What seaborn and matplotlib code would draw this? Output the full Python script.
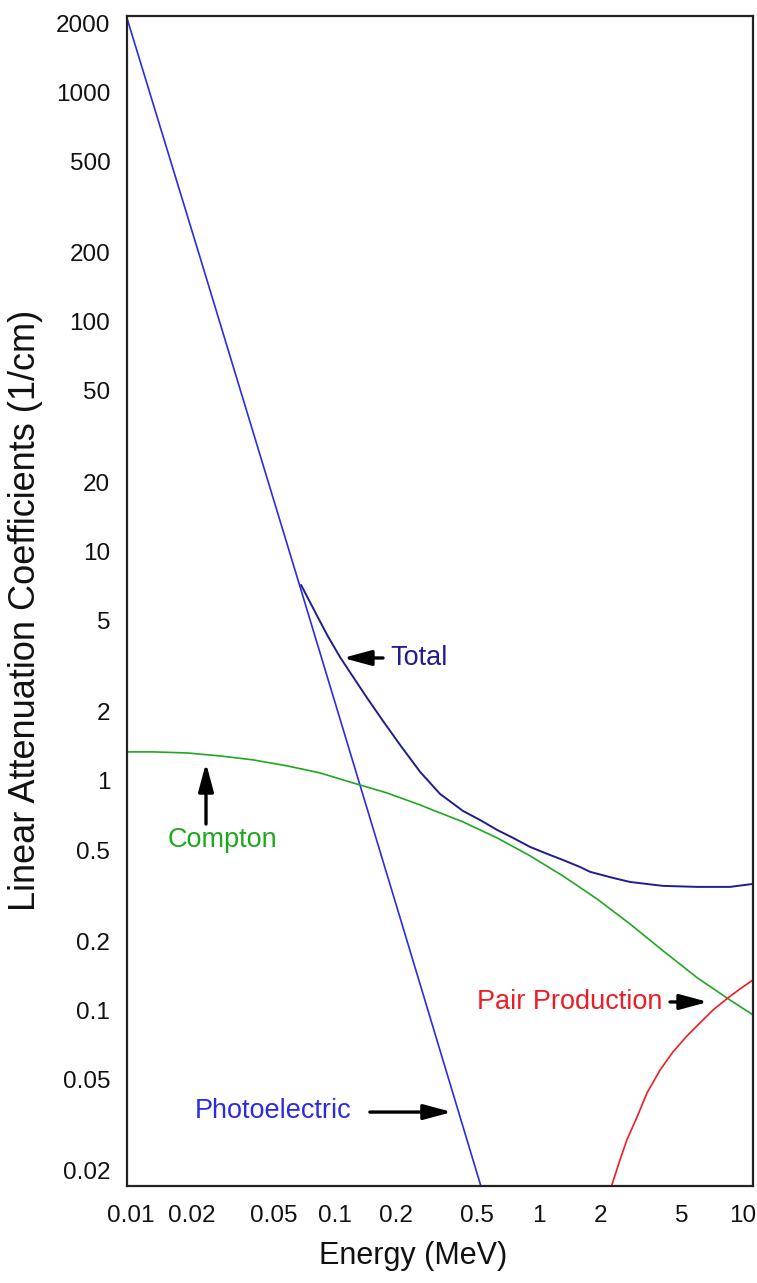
import matplotlib
matplotlib.use("Agg")
import matplotlib.pyplot as plt
from matplotlib.patches import ArrowStyle
import pandas as pd
import seaborn as sns

# Linear attenuation coefficients (1/cm) versus photon energy (MeV)
photo_energy = [0.0096, 0.022, 0.068, 0.21, 0.52]
photo_mu = [2100, 188, 6.9, 0.25, 0.0172]

compton_energy = [0.0096, 0.0129, 0.0189, 0.0274, 0.0398, 0.0584, 0.0847,
                  0.123, 0.180, 0.262, 0.293, 0.425, 0.624, 0.905, 1.31,
                  1.93, 2.80, 4.06, 5.96, 8.65, 11.2]
compton_mu = [1.338, 1.338, 1.324, 1.285, 1.235, 1.163, 1.084,
              0.980, 0.887, 0.786, 0.755, 0.663, 0.565, 0.472, 0.386,
              0.306, 0.238, 0.182, 0.139, 0.111, 0.0957]

pair_energy = [2.27, 2.50, 2.70, 3.03, 3.39, 3.93, 4.54, 5.32, 6.16,
               7.14, 8.45, 9.68, 11.2]
pair_mu = [0.0172, 0.0224, 0.0273, 0.0344, 0.0438, 0.0551, 0.0660, 0.0775,
           0.0883, 0.1006, 0.1135, 0.1242, 0.1359]

total_energy = [0.0684, 0.0801, 0.0917, 0.106, 0.123, 0.144, 0.172, 0.209,
                0.262, 0.328, 0.425, 0.515, 0.624, 0.747, 0.905,
                1.10, 1.31, 1.59, 1.78, 2.31, 2.80, 4.06, 5.96, 8.65, 11.2]
total_mu = [7.14, 5.45, 4.33, 3.47, 2.84, 2.30, 1.83, 1.435,
            1.095, 0.878, 0.740, 0.676, 0.612, 0.565, 0.516,
            0.481, 0.453, 0.422, 0.402, 0.378, 0.363, 0.349, 0.3455, 0.3455, 0.356]

y_ticks = [0.02, 0.05, 0.1, 0.2, 0.5, 1, 2, 5, 10, 20, 50, 100, 200, 500, 1000, 2000]
y_tick_labels = ["0.02", "0.05", "0.1", "0.2", "0.5", "1", "2", "5", "10",
                 "20", "50", "100", "200", "500", "1000", "2000"]
x_ticks = [0.01, 0.02, 0.05, 0.1, 0.2, 0.5, 1, 2, 5, 10]
x_tick_labels = ["0.01", "0.02", "0.05", "0.1", "0.2", "0.5", "1", "2", "5", "10"]

sns.set_theme(style="white")
plt.rcParams["font.family"] = ["Liberation Sans", "DejaVu Sans"]

C_PHOTO = "#2b2be6"
C_TOTAL = "#1e1e8c"
C_COMPTON = "#1fa81f"
C_PAIR = "#ee1c24"

fig = plt.figure(figsize=(7.57, 12.83), dpi=100)
ax = fig.add_axes([127 / 757, 1 - 1186 / 1283, 626 / 757, 1170 / 1283])

curves = [
    (photo_energy, photo_mu, C_PHOTO, 1.2),
    (compton_energy, compton_mu, C_COMPTON, 1.2),
    (pair_energy, pair_mu, C_PAIR, 1.2),
    (total_energy, total_mu, C_TOTAL, 1.4),
]
for e, mu, col, lw in curves:
    df = pd.DataFrame({"energy": e, "mu": mu})
    sns.lineplot(data=df, x="energy", y="mu", ax=ax, color=col, lw=lw,
                 estimator=None, sort=False, legend=False)

ax.set_xscale("log")
ax.set_yscale("log")
ax.set_xlim(0.0096, 11.2)
ax.set_ylim(0.0172, 2148)

ax.set_xticks(x_ticks)
ax.set_xticklabels(x_tick_labels)
ax.set_yticks(y_ticks)
ax.set_yticklabels(y_tick_labels)
ax.minorticks_off()
ax.tick_params(axis="both", length=0, labelsize=17.5, colors="#111111")
ax.tick_params(axis="x", pad=14)
ax.tick_params(axis="y", pad=12)

for sp in ax.spines.values():
    sp.set_color("#222222")
    sp.set_linewidth(1.6)

ax.set_xlabel("Energy (MeV)", fontsize=22, color="#111111")
ax.xaxis.set_label_coords(0.457, -0.047)
ax.set_ylabel("Linear Attenuation Coefficients (1/cm)", fontsize=26, color="#111111")
ax.yaxis.set_label_coords(-0.134, 0.492)

arrow = ArrowStyle("-|>", head_length=1.0, head_width=0.27)
arrow_kw = dict(arrowstyle=arrow, color="black", lw=2.4, mutation_scale=17,
                shrinkA=0, shrinkB=0)

labels = [
    ("Total", C_TOTAL, (0.420, 0.4513), (0.409, 0.4513), (0.345, 0.4513)),
    ("Compton", C_COMPTON, (0.0655, 0.2957), (0.1262, 0.3094), (0.1262, 0.3615)),
    ("Photoelectric", C_PHOTO, (0.1086, 0.0641), (0.388, 0.0632), (0.519, 0.0632)),
    ("Pair Production", C_PAIR, (0.559, 0.1573), (0.8674, 0.1573), (0.9281, 0.1573)),
]
for text, col, tpos, tail, tip in labels:
    ax.text(*tpos, text, transform=ax.transAxes, color=col, fontsize=19.5,
            ha="left", va="center")
    ax.annotate("", xy=tip, xytext=tail, xycoords="axes fraction",
                textcoords="axes fraction", arrowprops=arrow_kw)

fig.savefig("out.png", dpi=100)
